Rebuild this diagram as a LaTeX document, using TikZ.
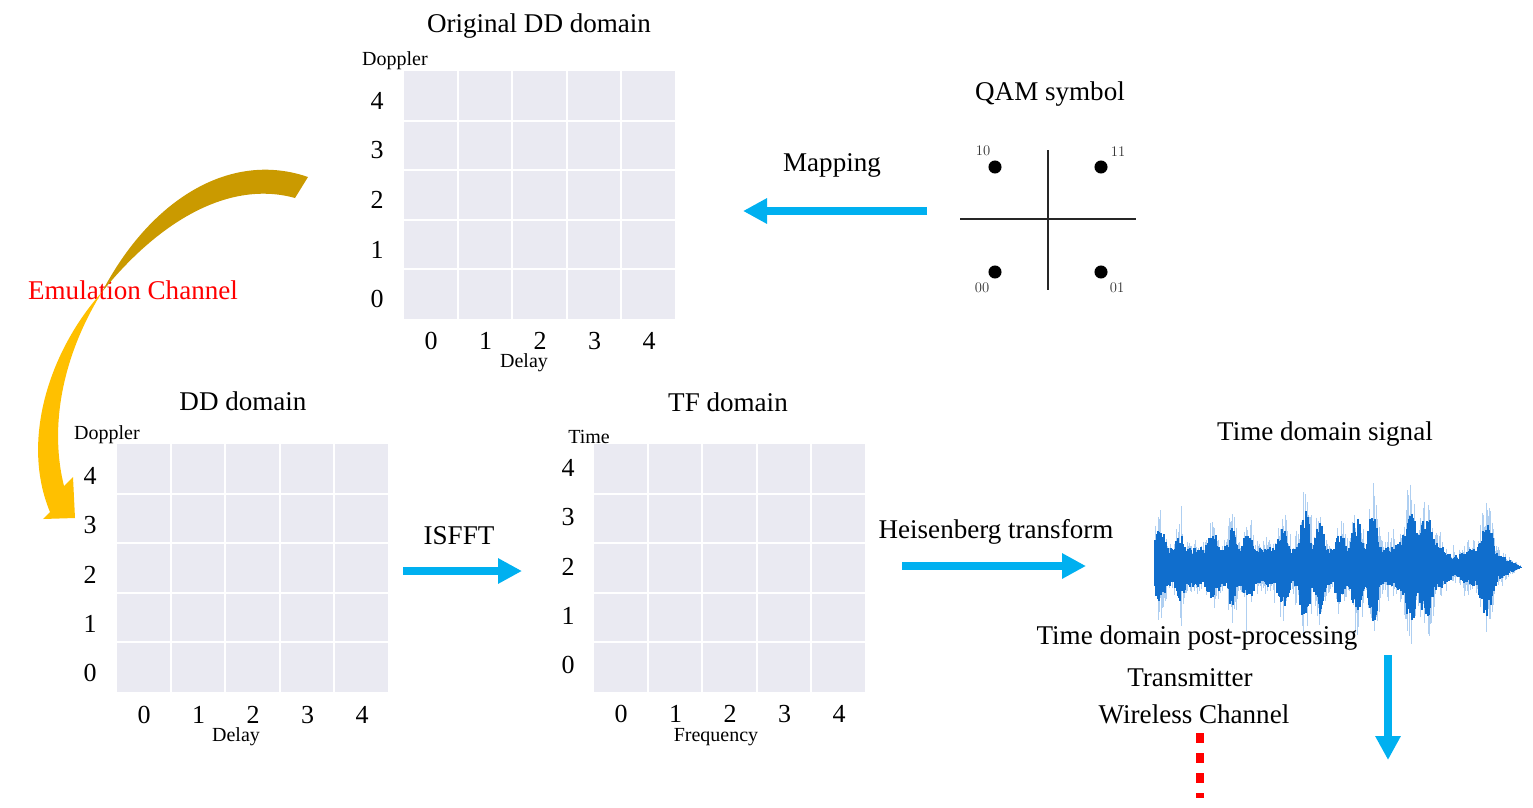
\documentclass[tikz,border=0pt]{standalone}
\usepackage{fontspec}
\setmainfont{Liberation Serif}
\usetikzlibrary{arrows.meta,calc}

\definecolor{cellgray}{RGB}{234,234,242}
\definecolor{arrowblue}{RGB}{0,176,240}
\definecolor{golddark}{RGB}{202,154,0}
\definecolor{goldlight}{RGB}{255,192,0}
\definecolor{wavedarkc}{RGB}{16,110,205}
\definecolor{wavelightc}{RGB}{110,168,230}

\begin{document}
\begin{tikzpicture}[x=0.75pt, y=-0.75pt,
% node style
txt/.style={inner sep=0pt, font=\fontsize{20.3}{24}\selectfont},
ticklab/.style={inner sep=0pt, font=\fontsize{19.5}{23}\selectfont},
axlab/.style={inner sep=0pt, font=\fontsize{15}{18}\selectfont},
bits/.style={inner sep=0pt, text=black!80, font=\fontfamily{lmr}\fontsize{11}{13}\selectfont},
qamdot/.style={circle, fill=black, inner sep=0pt, minimum size=9.8pt},
gridcells/.style={rectangle, fill=cellgray, inner sep=0pt, minimum width=203.25pt, minimum height=186pt},
gapline/.style={white, line width=1.5pt},
% line style
fatarrow/.style={arrowblue, line width=6pt, -{Triangle[length=18pt, width=18pt]}},
wavelight/.style={wavelightc, opacity=0.55, line width=0.6pt},
wavedark/.style={wavedarkc, line width=0.8pt},
% waveform envelope
declare function={
  bump(\x,\c,\w)=max(0,1-((\x-\c)/\w)*((\x-\c)/\w))^2;
  wenv(\x)=(28+31*bump(\x,1160,9)+19*bump(\x,1180,8)+21*bump(\x,1213,9)+28*bump(\x,1232,8)
    +26*bump(\x,1248,8)+31*bump(\x,1283,9)+53*bump(\x,1305,9)+39*bump(\x,1320,8)
    +24*bump(\x,1340,8)+44*bump(\x,1357,9)+61*bump(\x,1373,8)+39*bump(\x,1410,9)
    +34*bump(\x,1427,9)+41*bump(\x,1487,12)+18*bump(\x,1418,30)-12*bump(\x,1455,14))
    *min(1,(1522-\x)/35);
}
]
\useasboundingbox (0,0) rectangle (1533,807);

% grids
\foreach \g/\gx/\gy in {orig/404/71, dd/117/444, tf/594/444} {
  \node[gridcells, anchor=north west] (\g) at (\gx,\gy) {};
  \foreach \k in {1,...,4} {
    \draw[gapline] ($(\g.north west)+(\k*54.2,0)$) -- ++(0,248);
    \draw[gapline] ($(\g.north west)+(0,\k*49.6)$) -- ++(271,0);
  }
}

% tick numbers
\foreach \k in {0,...,4} {
  \node[ticklab] (orig_x\k) at ({431+54.5*\k},341) {\k};
  \node[ticklab] (orig_y\k) at (377,{299-49.5*\k}) {\k};
  \node[ticklab] (dd_x\k) at ({144+54.5*\k},715) {\k};
  \node[ticklab] (dd_y\k) at (90,{673-49.25*\k}) {\k};
  \node[ticklab] (tf_x\k) at ({621+54.5*\k},714) {\k};
  \node[ticklab] (tf_y\k) at (568,{665-49.25*\k}) {\k};
}

% axis names
\node[axlab] (orig_dop) at (395,61) {Doppler};
\node[axlab] (orig_del) at (524,363) {Delay};
\node[axlab] (dd_dop) at (107,435) {Doppler};
\node[axlab] (dd_del) at (236,737) {Delay};
\node[axlab] (tf_time) at (589,437) {Time};
\node[axlab] (tf_freq) at (716,737) {Frequency};

% titles
\node[txt] (orig_title) at (539,26) {Original DD domain};
\node[txt] (dd_title) at (243,401) {DD domain};
\node[txt] (tf_title) at (728,402) {TF domain};
\node[txt] (qam_title) at (1050,94) {QAM symbol};
\node[txt] (sig_title) at (1325,434) {Time domain signal};

% qam constellation
\coordinate (qam_l) at (960,219);
\coordinate (qam_r) at (1136,219);
\coordinate (qam_t) at (1048,150);
\coordinate (qam_b) at (1048,290);
\draw[black!85, line width=1.1pt] (qam_l) -- (qam_r);
\draw[black!85, line width=1.1pt] (qam_t) -- (qam_b);
\node[qamdot] (qam_10) at (995,167) {};
\node[qamdot] (qam_11) at (1101,167) {};
\node[qamdot] (qam_00) at (995,272) {};
\node[qamdot] (qam_01) at (1101,272) {};
\node[bits] (bits_10) at (983,151) {10};
\node[bits] (bits_11) at (1118,152) {11};
\node[bits] (bits_00) at (982,288) {00};
\node[bits] (bits_01) at (1117,288) {01};

% waveform
\pgfmathsetseed{11}
\foreach \x in {1155,1156,...,1521} {
  \pgfmathsetmacro\env{wenv(\x)}
  \pgfmathsetmacro\sp{rnd>0.94 ? 1.35 : 1}
  \pgfmathsetmacro\up{\sp*\env*(0.35+0.65*rnd)}
  \pgfmathsetmacro\dn{\sp*\env*(0.35+0.65*rnd)}
  \pgfmathsetmacro\cu{\env*(0.42+0.3*rnd)}
  \pgfmathsetmacro\cd{\env*(0.42+0.3*rnd)}
  \draw[wavelight] (\x,{567-\up}) -- (\x,{567+\dn});
  \draw[wavedark] (\x,{567-\cu}) -- (\x,{567+\cd});
}

% step labels
\node[txt, text=red] (emu_lab) at (133,290) {Emulation Channel};
\node[txt] (map_lab) at (832,165) {Mapping};
\node[txt] (isfft_lab) at (459,536) {ISFFT};
\node[txt] (heis_lab) at (996,532) {Heisenberg transform};
\node[txt] (post_lab) at (1197,638) {Time domain post-processing};
\node[txt] (tx_lab) at (1190,678) {Transmitter};
\node[txt] (wc_lab) at (1194,714) {Wireless Channel};

% arrow ends
\coordinate (map_from) at (927,211);
\coordinate (map_to) at (743,211);
\coordinate (isfft_from) at (403,571);
\coordinate (isfft_to) at (522,571);
\coordinate (heis_from) at (902,566);
\coordinate (heis_to) at (1086,566);
\coordinate (down_from) at (1388,655);
\coordinate (down_to) at (1388,760);
\coordinate (wc_from) at (1200,733);
\coordinate (wc_to) at (1200,798);

% draw arrows between ends
\draw[fatarrow] (map_from) -- (map_to);
\draw[fatarrow] (isfft_from) -- (isfft_to);
\draw[fatarrow] (heis_from) -- (heis_to);
\draw[fatarrow] (down_from) -- (down_to);
\draw[red, line width=6pt, dash pattern=on 7.5pt off 7.5pt] (wc_from) -- (wc_to);

% emulation channel ribbon
\fill[golddark] (308,177) .. controls (230,150) and (150,200) .. (102,292)
  .. controls (160,220) and (230,180) .. (295,198) -- cycle;
\fill[goldlight] (102,292) .. controls (50,350) and (20,440) .. (50,512)
  -- (43,519) -- (75,518) -- (73,477) -- (64,486)
  .. controls (50,430) and (60,360) .. (102,292) -- cycle;

\end{tikzpicture}
\end{document}
